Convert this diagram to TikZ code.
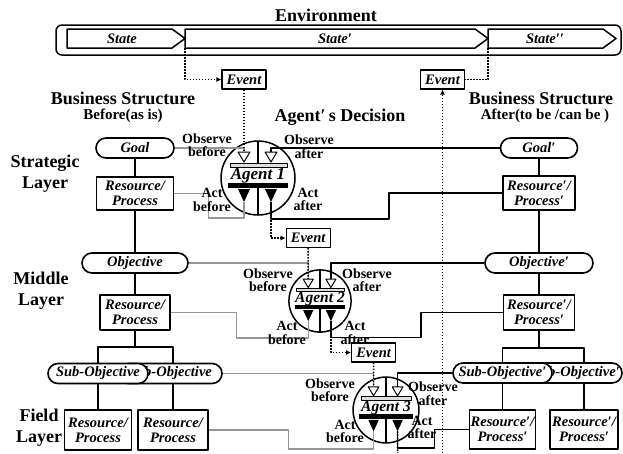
\documentclass[tikz,border=0pt]{standalone}
\usepackage{fontspec}
\setmainfont{Liberation Serif}
\usetikzlibrary{arrows.meta}
\definecolor{linegray}{RGB}{150,150,150}
\newcommand\boxfont{\fontsize{14.5}{15}\selectfont\bfseries\itshape}
\newcommand\labelfont{\fontsize{14}{13.5}\selectfont\bfseries}
\newcommand\titlefont{\fontsize{18}{21}\selectfont\bfseries}
\newcommand\subtitlefont{\fontsize{15}{17}\selectfont\bfseries}
\tikzset{
  pics/agent/.style n args={2}{code={
    \draw[line width=1.5pt,fill=white] (0,0) circle [radius=37];
    \draw[line width=1.4pt] (0,-37) -- (0,-11) (0,10) -- (0,37);
    \draw[line width=1pt,fill=white] (-20,-26) -- (-8,-26) -- (-14,-16) -- cycle;
    \draw[line width=1pt,fill=white] (7,-26) -- (19,-26) -- (13,-16) -- cycle;
    \draw[line width=1pt,fill=gray!25] (-28,-15) rectangle (29,-11);
    \node[inner sep=0pt,font=\fontsize{#2}{#2}\selectfont\bfseries\itshape] (-name) at (0,-2) {#1};
    \fill (-30,5) rectangle (30,10);
    \fill (-20,11) -- (-8,11) -- (-14,24) -- cycle;
    \fill (7,11) -- (19,11) -- (13,24) -- cycle;
    \coordinate (-ob) at (-14,-26);
    \coordinate (-oa) at (13,-26);
    \coordinate (-ab) at (-14,24);
    \coordinate (-aa) at (13,24);
  }}
}
\begin{document}
\begin{tikzpicture}[x=1pt,y=-1pt,line join=round,
  box/.style={draw,line width=1.6pt,fill=white,font=\boxfont,align=center,inner sep=0pt},
  pill/.style={box,rounded corners=10pt,minimum height=20pt},
  rp/.style={box},
  event/.style={box,line width=1.2pt,minimum width=44pt,minimum height=19pt},
  lbl/.style={font=\labelfont,align=center,inner sep=0pt},
  conn/.style={line width=1.3pt},
  gconn/.style={conn,draw=linegray},
  dots/.style={line width=1.5pt,dash pattern=on 1.5pt off 1.5pt},
  arr/.style={-{Latex[length=5pt,width=5pt]}}]
\useasboundingbox (0,0) rectangle (623,453);

% environment band with the three states
\node[font=\titlefont] (envT) at (326,15) {Environment};
\node[draw,line width=1.5pt,rounded corners=6pt,minimum width=565pt,minimum height=30pt,inner sep=0pt] (env) at (338.5,40) {};
\draw[line width=1.5pt] (67,29) -- (172,29) -- (185,38.5) -- (172,48) -- (67,48) -- cycle;
\draw[line width=1.5pt] (185,29) -- (475,29) -- (488,38.5) -- (475,48) -- (185,48) -- cycle;
\draw[line width=1.5pt] (488,29) -- (603,29) -- (616,38.5) -- (603,48) -- (488,48) -- cycle;
\node[font=\boxfont] (st1) at (122,39) {State};
\node[font=\boxfont] (st2) at (335,39) {State′};
\node[font=\boxfont] (st3) at (545,39) {State′′};
\coordinate (tipA) at (185,48);
\coordinate (tipB) at (488,48);

% headings
\node[font=\titlefont] (bsl) at (123,98) {Business Structure};
\node[font=\subtitlefont] (bsl2) at (123,116) {Before(as is)};
\node[font=\titlefont] (dec) at (340,117) {Agent′\,s Decision};
\node[font=\titlefont] (bsr) at (541,98) {Business Structure};
\node[font=\subtitlefont] (bsr2) at (545,116) {After(to be /can be )};
\node[font=\titlefont,align=center] (lay1) at (45,173.5) {Strategic\\Layer};
\node[font=\titlefont,align=center] (lay2) at (41,291) {Middle\\Layer};
\node[font=\titlefont,align=center] (lay3) at (39,428) {Field\\Layer};

% structure before
\node[pill,minimum width=78pt] (Goal) at (135,148) {Goal};
\node[rp,minimum width=77pt,minimum height=33pt] (RP1) at (135,193.5) {Resource/\\Process};
\node[pill,minimum width=106pt] (Obj) at (135,263) {Objective};
\node[rp,minimum width=70pt,minimum height=35pt] (RP2) at (135,312.5) {Resource/\\Process};
\node[pill,minimum width=104pt] (SubB) at (170,373.5) {Sub-Objective};
\node[pill,minimum width=100pt] (SubA) at (98,373.5) {Sub-Objective};
\node[rp,minimum width=67pt,minimum height=40pt] (RPf1) at (98,430) {Resource/\\Process};
\node[rp,minimum width=70pt,minimum height=40pt] (RPf2) at (173,430) {Resource/\\Process};
\coordinate (splitL) at (135,347);
\draw[conn] (Goal) -- (RP1);
\draw[conn] (RP1) -- (Obj);
\draw[conn] (Obj) -- (RP2);
\draw[conn] (RP2) -- (splitL) -| (SubA);
\draw[conn] (splitL) -| (SubB.north -| RPf2);
\draw[conn] (SubA) -- (RPf1);
\draw[conn] (SubB.south -| RPf2) -- (RPf2);

% structure after
\node[pill,minimum width=77pt] (Goalr) at (539,148) {Goal′};
\node[rp,minimum width=72pt,minimum height=34pt] (RP1r) at (539,193) {Resource′/\\Process′};
\node[pill,minimum width=108pt] (Objr) at (539,263) {Objective′};
\node[rp,minimum width=71pt,minimum height=35pt] (RP2r) at (539,312.5) {Resource′/\\Process′};
\node[pill,minimum width=92pt] (SubBr) at (576,373) {Sub-Objective′};
\node[pill,minimum width=99pt] (SubAr) at (502.5,373) {Sub-Objective′};
\node[rp,minimum width=66pt,minimum height=39pt] (RPf1r) at (502.5,429.5) {Resource′/\\Process′};
\node[rp,minimum width=68pt,minimum height=39pt] (RPf2r) at (584,429.5) {Resource′/\\Process′};
\coordinate (splitR) at (539,348);
\draw[conn] (Goalr) -- (RP1r);
\draw[conn] (RP1r) -- (Objr);
\draw[conn] (Objr) -- (RP2r);
\draw[conn] (RP2r) -- (splitR) -| (SubAr);
\draw[conn] (splitR) -| (SubBr.north -| RPf2r);
\draw[conn] (SubAr) -- (RPf1r);
\draw[conn] (SubBr.south -| RPf2r) -- (RPf2r);

% agents
\pic (A1) at (258,178) {agent={Agent 1}{17}};
\pic[scale=0.84] (A2) at (320,301) {agent={Agent 2}{15.5}};
\pic[scale=0.89] (A3) at (386,410) {agent={Agent 3}{15.5}};

% events
\node[event] (Ev1) at (244,79.5) {Event};
\node[event] (EvR) at (442.5,79.5) {Event};
\node[event] (Ev2) at (308.2,238) {Event};
\node[event] (Ev3) at (373.6,352.5) {Event};
\coordinate (bottomR) at (442.5,453);
\coordinate (bottomA3) at (397.6,453);

% observe / act links, before
\draw[gconn] (Goal.east) -| (A1-ob);
\draw[gconn] (RP1.east) -| ++(34,24.5) -| (A1-ab);
\draw[gconn] (Obj.east) -| (A2-ob);
\draw[gconn] (RP2.east) -| ++(66,25.5) -| (A2-ab);
\draw[gconn] (SubB.east) -| (A3-ob);
\draw[gconn] (RPf2.east) -| ++(80,19) -| (A3-ab);

% observe / act links, after
\draw[conn] (A1-oa) |- (Goalr.west);
\draw[conn] (A1-aa) |- ++(118,17) |- (RP1r.west);
\draw[conn] (A2-oa) |- (Objr.west);
\draw[conn] (A2-aa) |- ++(90,16) |- (RP2r.west);
\draw[conn] (A3-oa) |- (SubAr.west);
\draw[conn] (A3-aa) |- ++(37,16.5) |- (RPf1r.west);

% event flow
\draw[dots,arr] (tipA) |- (Ev1.west);
\draw[dots] (tipB) |- (EvR.east);
\draw[dots,arr] (bottomR) -- (EvR.south);
\draw[dots] (Ev1.south) -- (A1-ob);
\draw[dots,arr] (A1-aa) |- (Ev2.west);
\draw[dots] (Ev2.south) -- (A2-ob);
\draw[dots,arr] (A2-aa) |- (Ev3.west);
\draw[dots] (Ev3.south) -- (A3-ob);
\draw[dots] (A3-aa) -- (bottomA3);

% labels
\node[lbl] (lob1) at (207,145) {Observe\\before};
\node[lbl] (loa1) at (309,146.5) {Observe\\after};
\node[lbl] (lab1) at (212,200) {Act\\before};
\node[lbl] (laa1) at (308,199.5) {Act\\after};
\node[lbl] (lob2) at (268,280) {Observe\\before};
\node[lbl] (loa2) at (367,280) {Observe\\after};
\node[lbl] (lab2) at (287,333) {Act\\before};
\node[lbl] (laa2) at (355,333) {Act\\after};
\node[lbl] (lob3) at (330,390) {Observe\\before};
\node[lbl] (loa3) at (433,393.5) {Observe\\after};
\node[lbl] (lab3) at (345,431.5) {Act\\before};
\node[lbl] (laa3) at (422,427.5) {Act\\after};
\end{tikzpicture}
\end{document}
